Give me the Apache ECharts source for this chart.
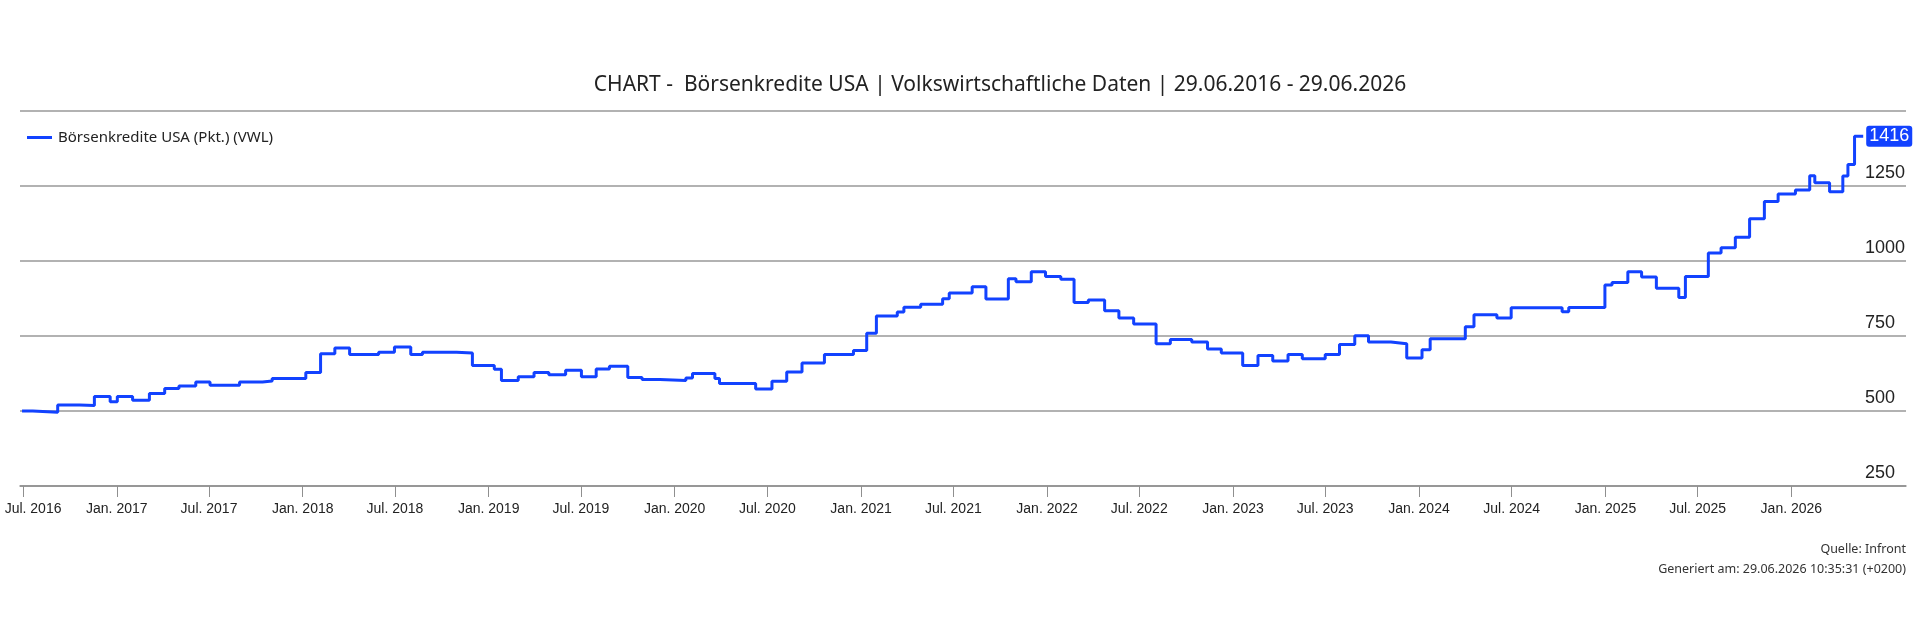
<!DOCTYPE html>
<html>
<head>
<meta charset="utf-8">
<title>Börsenkredite USA</title>
<script src="https://cdn.jsdelivr.net/npm/echarts@6/dist/echarts.min.js"></script>
<style>
    html, body { margin: 0; padding: 0; background: #fff; }
    #chart { width: 1920px; height: 640px; }
</style>
</head>
<body>
<div id="chart"></div>
<script>
// Börsenkredite USA (Pkt.) - Wert gilt ab dem jeweiligen Datum (Stufenlinie)
var seriesName = 'Börsenkredite USA (Pkt.) (VWL)';
var dates = [
    '2016-06-29', '2016-07-20', '2016-09-07', '2016-10-20', '2016-11-18', '2016-12-19',
    '2017-01-02', '2017-02-01', '2017-03-06', '2017-04-05', '2017-05-03', '2017-06-05',
    '2017-07-03', '2017-08-30', '2017-10-14', '2017-11-02',
    '2018-01-07', '2018-02-05', '2018-03-05', '2018-04-03', '2018-05-30', '2018-06-30',
    '2018-08-01', '2018-08-24', '2018-10-30', '2018-11-30',
    '2019-01-12', '2019-01-26', '2019-02-28', '2019-03-31', '2019-04-29', '2019-06-01',
    '2019-07-02', '2019-07-31', '2019-08-26', '2019-10-01', '2019-10-29', '2019-12-03',
    '2020-01-23', '2020-02-05', '2020-03-20', '2020-03-29', '2020-06-08',
    '2020-07-10', '2020-08-08', '2020-09-07', '2020-10-21', '2020-12-17',
    '2021-01-12', '2021-01-31', '2021-03-13', '2021-03-26', '2021-04-28', '2021-06-10',
    '2021-06-23', '2021-08-07', '2021-09-03', '2021-10-17', '2021-11-01', '2021-12-01',
    '2021-12-29', '2022-01-28', '2022-02-23', '2022-03-23', '2022-04-24', '2022-05-22',
    '2022-06-20', '2022-08-03', '2022-08-31', '2022-10-12', '2022-11-12', '2022-12-09',
    '2023-01-20', '2023-02-19', '2023-03-20', '2023-04-19', '2023-05-17', '2023-07-01',
    '2023-07-29', '2023-08-28', '2023-09-24', '2023-11-07', '2023-12-08',
    '2024-01-07', '2024-01-23', '2024-04-01', '2024-04-18', '2024-06-02', '2024-06-30',
    '2024-10-08', '2024-10-21', '2024-12-31',
    '2025-01-14', '2025-02-14', '2025-03-13', '2025-04-11', '2025-05-25', '2025-06-07',
    '2025-07-22', '2025-08-16', '2025-09-13', '2025-10-11', '2025-11-09', '2025-12-06',
    '2026-01-09', '2026-02-06', '2026-02-16', '2026-03-17', '2026-04-12', '2026-04-22',
    '2026-05-05', '2026-05-22'
];
var values = [
    500, 496, 520, 518, 548, 531,
    548, 536, 558, 575, 583, 597,
    586, 597, 600, 608,
    628, 691, 710, 688, 696, 713,
    688, 696, 693, 652,
    639, 602, 614, 628, 621, 636,
    614, 640, 649, 612, 605, 602,
    610, 625, 608, 592, 573,
    599, 630, 660, 688, 702,
    759, 817, 830, 846, 856, 874,
    893, 914, 873, 941, 931, 964,
    948, 939, 862, 870, 834, 810,
    790, 724, 738, 730, 707, 693,
    652, 685, 667, 688, 674, 688,
    722, 751, 730, 724, 677,
    704, 741, 781, 821, 810, 844,
    831, 845, 920,
    928, 964, 947, 909, 878, 948,
    1027, 1044, 1079, 1141, 1198, 1223,
    1237, 1284, 1261, 1231, 1283, 1322,
    1416, 1416
];

// Achsen
var tickDates = [
    '2016-07-01', '2017-01-01', '2017-07-01', '2018-01-01', '2018-07-01',
    '2019-01-01', '2019-07-01', '2020-01-01', '2020-07-01', '2021-01-01',
    '2021-07-01', '2022-01-01', '2022-07-01', '2023-01-01', '2023-07-01',
    '2024-01-01', '2024-07-01', '2025-01-01', '2025-07-01', '2026-01-01'
];
var monthNames = ['Jan.', 'Feb.', 'Mär.', 'Apr.', 'Mai', 'Jun.', 'Jul.', 'Aug.', 'Sep.', 'Okt.', 'Nov.', 'Dez.'];
var xMin = '2016-06-25';
var xMax = '2026-08-14';
var yMin = 250, yMax = 1500, yStep = 250;

var titleText = 'CHART -  Börsenkredite USA | Volkswirtschaftliche Daten | 29.06.2016 - 29.06.2026';
var sourceText = 'Quelle: Infront';
var generatedText = 'Generiert am: 29.06.2026 10:35:31 (+0200)';

var lineColor = '#1242ff';

function toTime(s) {
    var p = s.split('-');
    return new Date(+p[0], +p[1] - 1, +p[2]).getTime();
}

var seriesData = [];
for (var i = 0; i < dates.length; i++) {
    seriesData.push([toTime(dates[i]), values[i]]);
}
var tickValues = [];
for (var j = 0; j < tickDates.length; j++) {
    tickValues.push(toTime(tickDates[j]));
}

var myChart = echarts.init(document.getElementById('chart'), null, {renderer: 'canvas'});

var option = {
    backgroundColor: '#fff',
    animation: false,
    legend: {
        left: 22,
        top: 125,
        icon: 'rect',
        itemWidth: 25,
        itemHeight: 3,
        textStyle: {
            fontFamily: 'Noto Sans',
            fontSize: 15,
            color: '#222',
            padding: [0, 0, 0, 1]
        },
        data: [seriesName]
    },
    grid: {
        left: 20,
        right: 14,
        top: 111,
        height: 375,
        outerBoundsMode: 'none'
    },
    xAxis: {
        // Zeitachse als Zahlenachse (Millisekunden), Ticks an festen Halbjahresdaten
        type: 'value',
        min: toTime(xMin),
        max: toTime(xMax),
        axisLine: {
            lineStyle: {color: '#8f8f8f', width: 1.5}
        },
        axisTick: {
            length: 11,
            customValues: tickValues,
            lineStyle: {color: '#8f8f8f', width: 1}
        },
        axisLabel: {
            customValues: tickValues,
            margin: 16,
            fontFamily: 'Liberation Sans',
            fontSize: 14,
            color: '#222',
            formatter: function (v) {
                var d = new Date(v);
                var txt = monthNames[d.getMonth()] + ' ' + d.getFullYear();
                // erstes Label nach rechts in den sichtbaren Bereich schieben
                return v === tickValues[0] ? '{first|' + txt + '}' : txt;
            },
            rich: {
                first: {
                    fontFamily: 'Liberation Sans',
                    fontSize: 14,
                    color: '#222',
                    padding: [0, 0, 0, 20]
                }
            }
        },
        splitLine: {show: false}
    },
    yAxis: {
        type: 'value',
        position: 'right',
        min: yMin,
        max: yMax,
        interval: yStep,
        axisLine: {show: false},
        axisTick: {show: false},
        axisLabel: {
            inside: true,
            align: 'left',
            verticalAlign: 'bottom',
            margin: 41,
            padding: [0, 0, 4, 0],
            fontFamily: 'Liberation Sans',
            fontSize: 18,
            color: '#222',
            formatter: function (v) {
                return v === yMax ? '' : String(v);
            }
        },
        splitLine: {
            lineStyle: {color: '#999', width: 1.5}
        }
    },
    series: [
        {
            name: seriesName,
            type: 'line',
            step: 'end',
            data: seriesData,
            symbol: 'none',
            lineStyle: {color: lineColor, width: 3},
            itemStyle: {color: lineColor},
            endLabel: {
                show: true,
                distance: 3,
                formatter: function (p) {
                    return p.value[1];
                },
                color: '#fff',
                backgroundColor: lineColor,
                borderRadius: 3,
                padding: [2, 3, 1, 3],
                fontFamily: 'Liberation Sans',
                fontSize: 18
            }
        }
    ],
    graphic: [
        {
            type: 'text',
            x: 1000,
            y: 85,
            style: {
                text: titleText,
                font: '21px "Noto Sans"',
                fill: '#222',
                textAlign: 'center',
                textVerticalAlign: 'middle'
            }
        },
        {
            type: 'text',
            x: 1906,
            y: 549,
            style: {
                text: sourceText,
                font: '12.5px "Noto Sans"',
                fill: '#333',
                textAlign: 'right',
                textVerticalAlign: 'middle'
            }
        },
        {
            type: 'text',
            x: 1906,
            y: 569,
            style: {
                text: generatedText,
                font: '12.5px "Noto Sans"',
                fill: '#333',
                textAlign: 'right',
                textVerticalAlign: 'middle'
            }
        }
    ]
};
myChart.setOption(option);
</script>
</body>
</html>
